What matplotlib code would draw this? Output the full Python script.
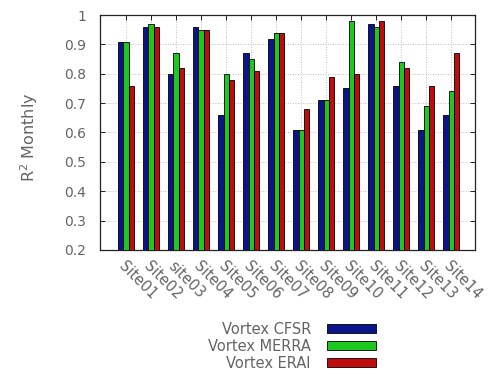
import numpy as np
import matplotlib
matplotlib.use("Agg")
import matplotlib.pyplot as plt

sites = ["Site01", "Site02", "site03", "Site04", "Site05", "Site06", "Site07",
         "Site08", "Site09", "Site10", "Site11", "Site12", "Site13", "Site14"]
cfsr = [0.91, 0.96, 0.80, 0.96, 0.66, 0.87, 0.92, 0.61, 0.71, 0.75, 0.97, 0.76, 0.61, 0.66]
merra = [0.91, 0.97, 0.87, 0.95, 0.80, 0.85, 0.94, 0.61, 0.71, 0.98, 0.96, 0.84, 0.69, 0.74]
erai = [0.76, 0.96, 0.82, 0.95, 0.78, 0.81, 0.94, 0.68, 0.79, 0.80, 0.98, 0.82, 0.76, 0.87]

series = [("Vortex CFSR", cfsr, "#0c148c"),
          ("Vortex MERRA", merra, "#1ec81e"),
          ("Vortex ERAI", erai, "#c00c0c")]
yticks = [0.2, 0.3, 0.4, 0.5, 0.6, 0.7, 0.8, 0.9, 1.0]
ytick_labels = ["0.2", "0.3", "0.4", "0.5", "0.6", "0.7", "0.8", "0.9", "1"]

plt.rcParams["font.family"] = ["DejaVu Sans"]
txt = "#646464"

fig = plt.figure(figsize=(4.99, 3.78), dpi=100)
ax = fig.add_axes([0.2, 0.339, 0.752, 0.621])

x = np.arange(len(sites))
w = 0.21
for k, (name, vals, col) in enumerate(series):
    ax.bar(x + (k - 1) * w, vals, width=w, color=col, edgecolor="black",
           linewidth=0.6, label=name, zorder=3)

ax.set_xlim(-1.05, len(sites) - 0.05)
ax.set_ylim(0.2, 1.0)
ax.set_yticks(yticks)
ax.set_yticklabels(ytick_labels)
ax.set_xticks(x)
ax.set_xticklabels(sites, rotation=-45, ha="left", va="top",
                   rotation_mode="anchor")
ax.tick_params(axis="both", direction="in", top=True, right=True,
               length=3.5, width=0.6, labelcolor=txt)
ax.tick_params(axis="y", pad=10, labelsize=10)
ax.tick_params(axis="x", pad=6, labelsize=10.5)
ax.grid(True, color="#a8a8a8", linestyle=(0, (1, 2)), linewidth=0.6, zorder=0)
for s in ax.spines.values():
    s.set_linewidth(0.9)
    s.set_color("#222222")

ax.set_ylabel("R$^2$ Monthly", fontsize=11.5, color=txt)
ax.yaxis.set_label_coords(-0.16, 0.48)

fig.legend(loc="upper center", bbox_to_anchor=(0.585, 0.183), frameon=False,
           markerfirst=False, fontsize=10.5, labelcolor=txt, handlelength=3.35,
           handleheight=0.55, labelspacing=0.13, handletextpad=1.1)

fig.savefig("out.png", dpi=100)
